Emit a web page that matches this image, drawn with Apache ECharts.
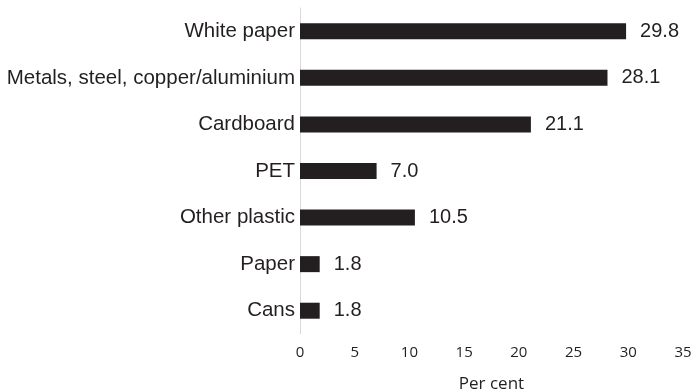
<!DOCTYPE html>
<html>
<head>
<meta charset="utf-8">
<script src="https://cdn.jsdelivr.net/npm/echarts@6/dist/echarts.min.js"></script>
<style>
  html, body { margin: 0; padding: 0; background: #fff; }
  #chart { width: 695px; height: 392px; }
</style>
</head>
<body>
<div id="chart"></div>
<script>
  // categories listed bottom to top (category axis starts at the bottom)
  var categories = ['Cans', 'Paper', 'Other plastic', 'PET', 'Cardboard', 'Metals, steel, copper/aluminium', 'White paper'];
  var values = [1.8, 1.8, 10.5, 7.0, 21.1, 28.1, 29.8];
  var axisName = 'Per cent';

  var myChart = echarts.init(document.getElementById('chart'));
  myChart.setOption({
    animation: false,
    grid: {
      left: 300,
      right: 12,
      top: 8,
      bottom: 58,
      containLabel: false,
      outerBoundsMode: 'none'
    },
    xAxis: {
      type: 'value',
      min: 0,
      max: 35,
      interval: 5,
      name: axisName,
      nameLocation: 'middle',
      nameGap: 42,
      nameTextStyle: {
        fontFamily: 'Open Sans',
        fontSize: 17,
        color: '#231f20'
      },
      axisLine: { show: false },
      axisTick: { show: false },
      splitLine: { show: false },
      axisLabel: {
        margin: 11,
        fontFamily: 'Open Sans',
        fontSize: 15,
        color: '#231f20'
      }
    },
    yAxis: {
      type: 'category',
      data: categories,
      axisLine: { show: true, lineStyle: { color: '#d9d9d9', width: 1 } },
      axisTick: { show: false },
      axisLabel: {
        margin: 5,
        fontFamily: 'Liberation Sans',
        fontSize: 20.5,
        color: '#231f20'
      }
    },
    series: [
      {
        type: 'bar',
        data: values,
        barWidth: 16,
        itemStyle: { color: '#231f20' },
        label: {
          show: true,
          position: 'right',
          distance: 14,
          fontFamily: 'Liberation Sans',
          fontSize: 20,
          color: '#231f20',
          formatter: function (p) { return p.value.toFixed(1); }
        }
      }
    ]
  });
</script>
</body>
</html>
